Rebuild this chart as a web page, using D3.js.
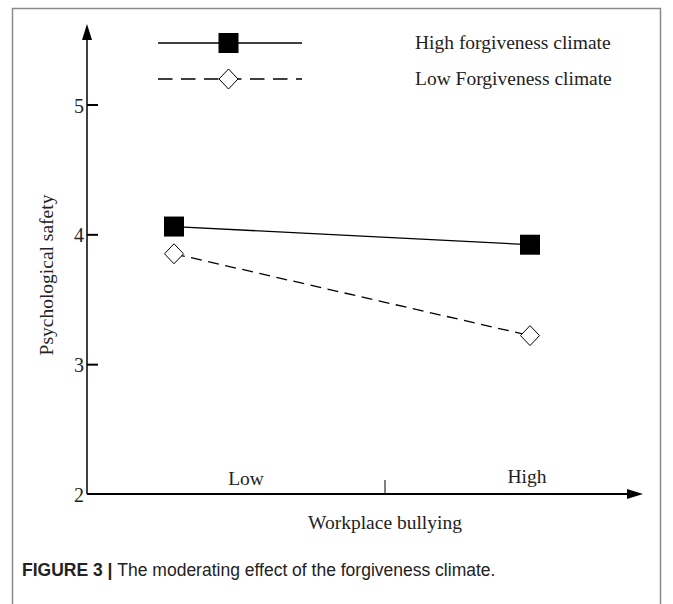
<!DOCTYPE html>
<html>
<head>
<meta charset="utf-8">
<script src="https://cdn.jsdelivr.net/npm/d3@7"></script>
<style>
body { margin: 0; background: #fff; }
svg text { font-family: "Liberation Serif", "Times New Roman", serif; fill: #222; }
</style>
</head>
<body>
<div id="chart"></div>
<script>
// data
var categories = ["Low", "High"];
var seriesNames = ["High forgiveness climate", "Low Forgiveness climate"];
var highForgiveness = [4.06, 3.92];
var lowForgiveness = [3.85, 3.22];
var yTicks = [2, 3, 4, 5];

var width = 673, height = 604;
var svg = d3.select("#chart").append("svg")
	.attr("width", width)
	.attr("height", height);

// figure frame
svg.append("path")
	.attr("d", "M12.5,604 V8.5 H660.5 V604")
	.attr("fill", "none")
	.attr("stroke", "#8a8a8a")
	.attr("stroke-width", 1.5);

var x0 = 87, xEnd = 643;
var y_scale = d3.scaleLinear().domain([2, 5]).range([494, 104.5]);
var x_scale = d3.scalePoint().domain(categories).range([174, 530]);
var label_scale = d3.scalePoint().domain(categories).range([246, 527]);

var axes = svg.append("g").attr("class", "axes");

// y axis with arrow
axes.append("line")
	.attr("x1", x0).attr("x2", x0)
	.attr("y1", y_scale(2)).attr("y2", 34)
	.attr("stroke", "#000").attr("stroke-width", 1.5);
axes.append("path")
	.attr("d", "M" + x0 + ",24 L" + (x0 - 5) + ",40 L" + (x0 + 5) + ",40 Z")
	.attr("fill", "#000");

var yAxis = d3.axisRight(y_scale).tickValues(yTicks.filter(function(d) { return d > 2; })).tickSize(11).tickFormat("");
var gy = axes.append("g")
	.attr("transform", "translate(" + x0 + ",0)")
	.call(yAxis);
gy.select(".domain").remove();
gy.selectAll(".tick line").attr("stroke", "#000").attr("stroke-width", 2);

axes.selectAll("text.ytick")
	.data(yTicks)
	.enter()
	.append("text")
	.attr("class", "ytick")
	.attr("x", 84)
	.attr("y", function(d) { return y_scale(d) + 8; })
	.attr("text-anchor", "end")
	.attr("font-size", 20)
	.text(function(d) { return d; });

// x axis with arrow
axes.append("line")
	.attr("x1", x0).attr("x2", xEnd - 12)
	.attr("y1", y_scale(2)).attr("y2", y_scale(2))
	.attr("stroke", "#000").attr("stroke-width", 2);
axes.append("path")
	.attr("d", "M" + xEnd + "," + y_scale(2) + " L" + (xEnd - 16) + "," + (y_scale(2) - 5) + " L" + (xEnd - 16) + "," + (y_scale(2) + 5) + " Z")
	.attr("fill", "#000");
axes.append("line")
	.attr("x1", 385).attr("x2", 385)
	.attr("y1", y_scale(2)).attr("y2", y_scale(2) - 14)
	.attr("stroke", "#000").attr("stroke-width", 1);

axes.selectAll("text.xcat")
	.data(categories)
	.enter()
	.append("text")
	.attr("class", "xcat")
	.attr("x", function(d) { return label_scale(d); })
	.attr("y", function(d, i) { return i == 0 ? 485 : 483; })
	.attr("text-anchor", "middle")
	.attr("font-size", 19.5)
	.text(function(d) { return d; });

svg.append("text")
	.attr("x", 385).attr("y", 529)
	.attr("text-anchor", "middle")
	.attr("font-size", 19.5)
	.text("Workplace bullying");

svg.append("text")
	.attr("transform", "translate(53,275) rotate(-90)")
	.attr("text-anchor", "middle")
	.attr("font-size", 19.5)
	.text("Psychological safety");

// lines
var series = [
	{ name: seriesNames[0], values: highForgiveness, dash: null, marker: "square" },
	{ name: seriesNames[1], values: lowForgiveness, dash: "11,6.5", marker: "diamond" }
];
var line = d3.line()
	.x(function(d, i) { return x_scale(categories[i]); })
	.y(function(d) { return y_scale(d); });

function drawMarker(g, type, cx, cy) {
	if(type == "square") {
		g.append("rect")
			.attr("x", cx - 10).attr("y", cy - 10)
			.attr("width", 20).attr("height", 20)
			.attr("fill", "#000");
	} else {
		g.append("path")
			.attr("d", "M" + cx + "," + (cy - 10) + " L" + (cx + 9.5) + "," + cy + " L" + cx + "," + (cy + 10) + " L" + (cx - 9.5) + "," + cy + " Z")
			.attr("fill", "#fff")
			.attr("stroke", "#000")
			.attr("stroke-width", 1);
	}
}

var plot = svg.append("g").attr("class", "plot");
series.forEach(function(s) {
	plot.append("path")
		.datum(s.values)
		.attr("d", line)
		.attr("fill", "none")
		.attr("stroke", "#000")
		.attr("stroke-width", 1.3)
		.attr("stroke-dasharray", s.dash);
	s.values.forEach(function(v, i) {
		drawMarker(plot, s.marker, x_scale(categories[i]), y_scale(v));
	});
});

// legend
var legend = svg.append("g").attr("class", "legend");
var legendY = [43, 79];
series.forEach(function(s, i) {
	legend.append("line")
		.attr("x1", 158).attr("x2", 302)
		.attr("y1", legendY[i]).attr("y2", legendY[i])
		.attr("stroke", "#000")
		.attr("stroke-width", 1.4)
		.attr("stroke-dasharray", s.dash ? "14.5,8.5" : null);
	drawMarker(legend, s.marker, 228.5, legendY[i]);
	legend.append("text")
		.attr("x", 415).attr("y", legendY[i] + 6)
		.attr("font-size", 19.5)
		.text(s.name);
});

// caption
var cap = svg.append("text")
	.attr("x", 22).attr("y", 576)
	.attr("font-size", 17.5)
	.style("font-family", "'Liberation Sans', Arial, sans-serif");
cap.append("tspan").attr("font-weight", "bold").text("FIGURE 3 | ");
cap.append("tspan").text("The moderating effect of the forgiveness climate.");
</script>
</body>
</html>
